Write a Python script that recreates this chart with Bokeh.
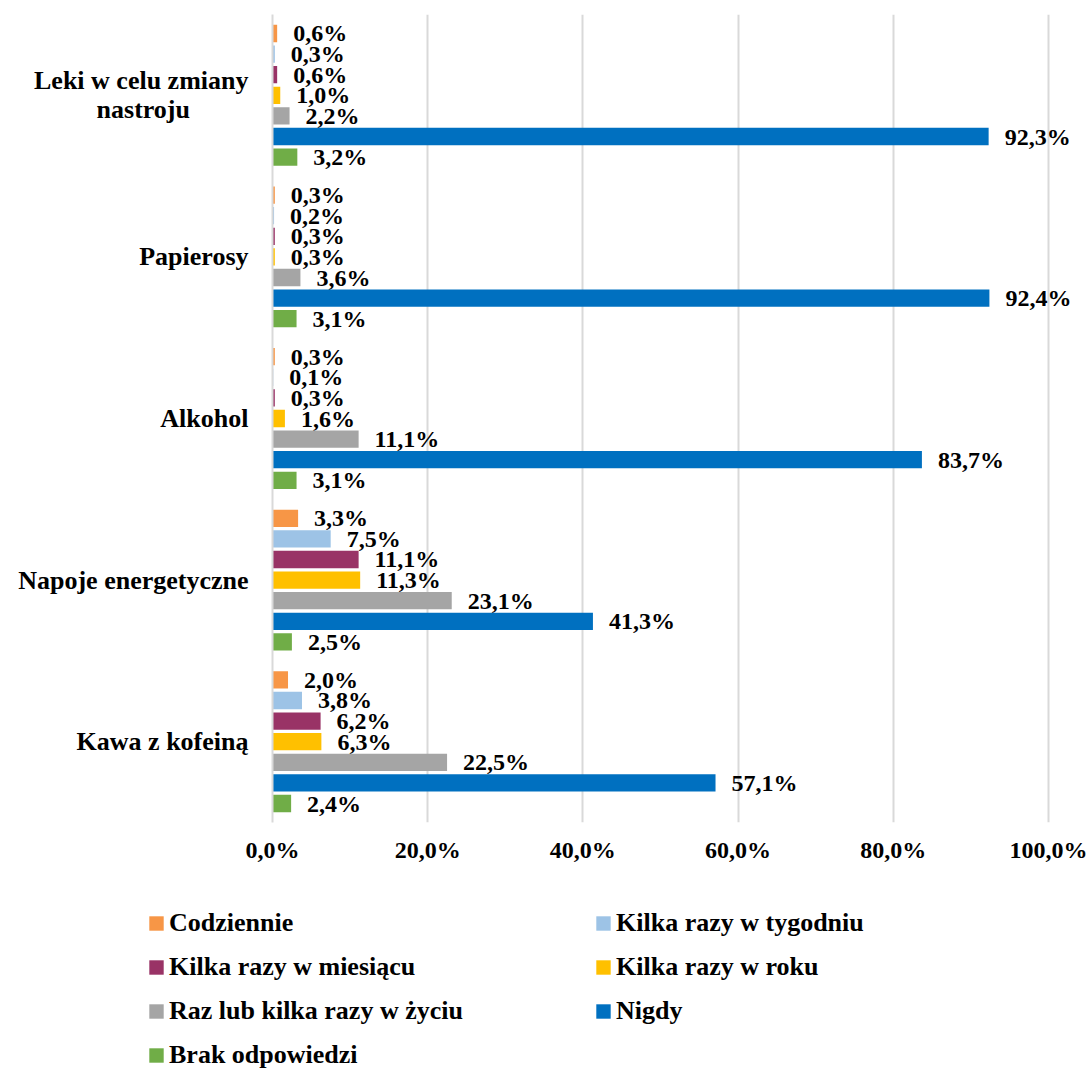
from bokeh.plotting import figure
from bokeh.layouts import column, row
from bokeh.models import ColumnDataSource, FixedTicker, Legend, LegendItem
from bokeh.core.properties import value
from bokeh.embed import file_html
from bokeh.resources import INLINE

NB = "\u00a0"
categories = ["Kawa z kofeiną", "Napoje energetyczne", "Alkohol", "Papierosy",
              "Leki w celu zmiany\nnastroju" + NB * 9]
series = ["Codziennie", "Kilka razy w tygodniu", "Kilka razy w miesiącu",
          "Kilka razy w roku", "Raz lub kilka razy w życiu", "Nigdy", "Brak odpowiedzi"]
codziennie = [2.0, 3.3, 0.3, 0.3, 0.6]
kilka_tyg = [3.8, 7.5, 0.1, 0.2, 0.3]
kilka_mies = [6.2, 11.1, 0.3, 0.3, 0.6]
kilka_rok = [6.3, 11.3, 1.6, 0.3, 1.0]
raz_w_zyciu = [22.5, 23.1, 11.1, 3.6, 2.2]
nigdy = [57.1, 41.3, 83.7, 92.4, 92.3]
brak = [2.4, 2.5, 3.1, 3.1, 3.2]
x_ticks = [0, 20, 40, 60, 80, 100]
x_tick_labels = ["0,0%", "20,0%", "40,0%", "60,0%", "80,0%", "100,0%"]

data = [codziennie, kilka_tyg, kilka_mies, kilka_rok, raz_w_zyciu, nigdy, brak]
colors = ["#F79646", "#9DC3E6", "#993366", "#FFC000", "#A5A5A5", "#0070C0", "#70AD47"]

FONT = "Liberation Serif"
step = 0.1275
bar_h = 0.107

p = figure(width=1089, height=866, output_backend="svg", toolbar_location=None,
           x_range=(0, 105.3), y_range=(-0.5, 4.5),
           min_border_left=272, min_border_right=0, min_border_top=14,
           min_border_bottom=44)
p.outline_line_color = None

sources = []
for i, (name, vals, col) in enumerate(zip(series, data, colors)):
    ys = [c + (3 - i) * step for c in range(len(categories))]
    src = ColumnDataSource(dict(y=ys, right=vals,
                                lab=[f"{v:.1f}%".replace(".", ",") for v in vals]))
    sources.append(src)
    p.hbar(y="y", right="right", left=0, height=bar_h, source=src,
           fill_color=col, line_color=None)
    p.text(x="right", y="y", text="lab", source=src, x_offset=16,
           text_baseline="middle", text_align="left",
           text_font=value(FONT), text_font_style="bold", text_font_size="24px",
           text_color="black")

# axes
p.xaxis.ticker = FixedTicker(ticks=x_ticks)
p.xaxis.major_label_overrides = {t: l for t, l in zip(x_ticks, x_tick_labels)}
p.xaxis.axis_line_color = None
p.xaxis.major_tick_line_color = None
p.xaxis.minor_tick_line_color = None
p.xaxis.major_tick_out = 0
p.xaxis.major_label_standoff = 14
p.xaxis.major_label_text_font = FONT
p.xaxis.major_label_text_font_style = "bold"
p.xaxis.major_label_text_font_size = "24px"
p.xaxis.major_label_text_color = "black"

p.yaxis.ticker = FixedTicker(ticks=list(range(len(categories))))
p.yaxis.major_label_overrides = {i: c for i, c in enumerate(categories)}
p.yaxis.axis_line_color = "#D9D9D9"
p.yaxis.axis_line_width = 2
p.yaxis.major_tick_line_color = None
p.yaxis.minor_tick_line_color = None
p.yaxis.major_tick_out = 0
p.yaxis.major_label_standoff = 24
p.yaxis.major_label_text_font = FONT
p.yaxis.major_label_text_font_style = "bold"
p.yaxis.major_label_text_font_size = "26px"
p.yaxis.major_label_text_color = "black"
p.yaxis.major_label_text_line_height = 1.0

p.xgrid.grid_line_color = "#D9D9D9"
p.xgrid.grid_line_width = 2
p.ygrid.grid_line_color = None

# legend figure (series drawn out of view; only the legend is visible)
pl = figure(width=1089, height=204, output_backend="svg", toolbar_location=None,
            x_range=(0, 1), y_range=(100, 101), x_axis_type=None, y_axis_type=None,
            min_border=0)
pl.outline_line_color = None
pl.grid.grid_line_color = None
items = []
for name, col, src in zip(series, colors, sources):
    r = pl.hbar(y="y", right="right", left=0, height=bar_h, source=src,
                fill_color=col, line_color=None)
    items.append(LegendItem(label=name, renderers=[r]))

legend = Legend(items=items, location=(147, 0), ncols=2, orientation="horizontal")
legend.padding = 0
legend.margin = 0
legend.spacing = 14
legend.border_line_color = None
legend.background_fill_alpha = 0
legend.glyph_width = 18
legend.glyph_height = 18
legend.label_standoff = 4
legend.label_width = 411
legend.label_text_font = FONT
legend.label_text_font_style = "bold"
legend.label_text_font_size = "26px"
legend.label_text_color = "black"
pl.add_layout(legend, "center")

open("out.html", "w").write(file_html(column(p, row(pl)), INLINE))
